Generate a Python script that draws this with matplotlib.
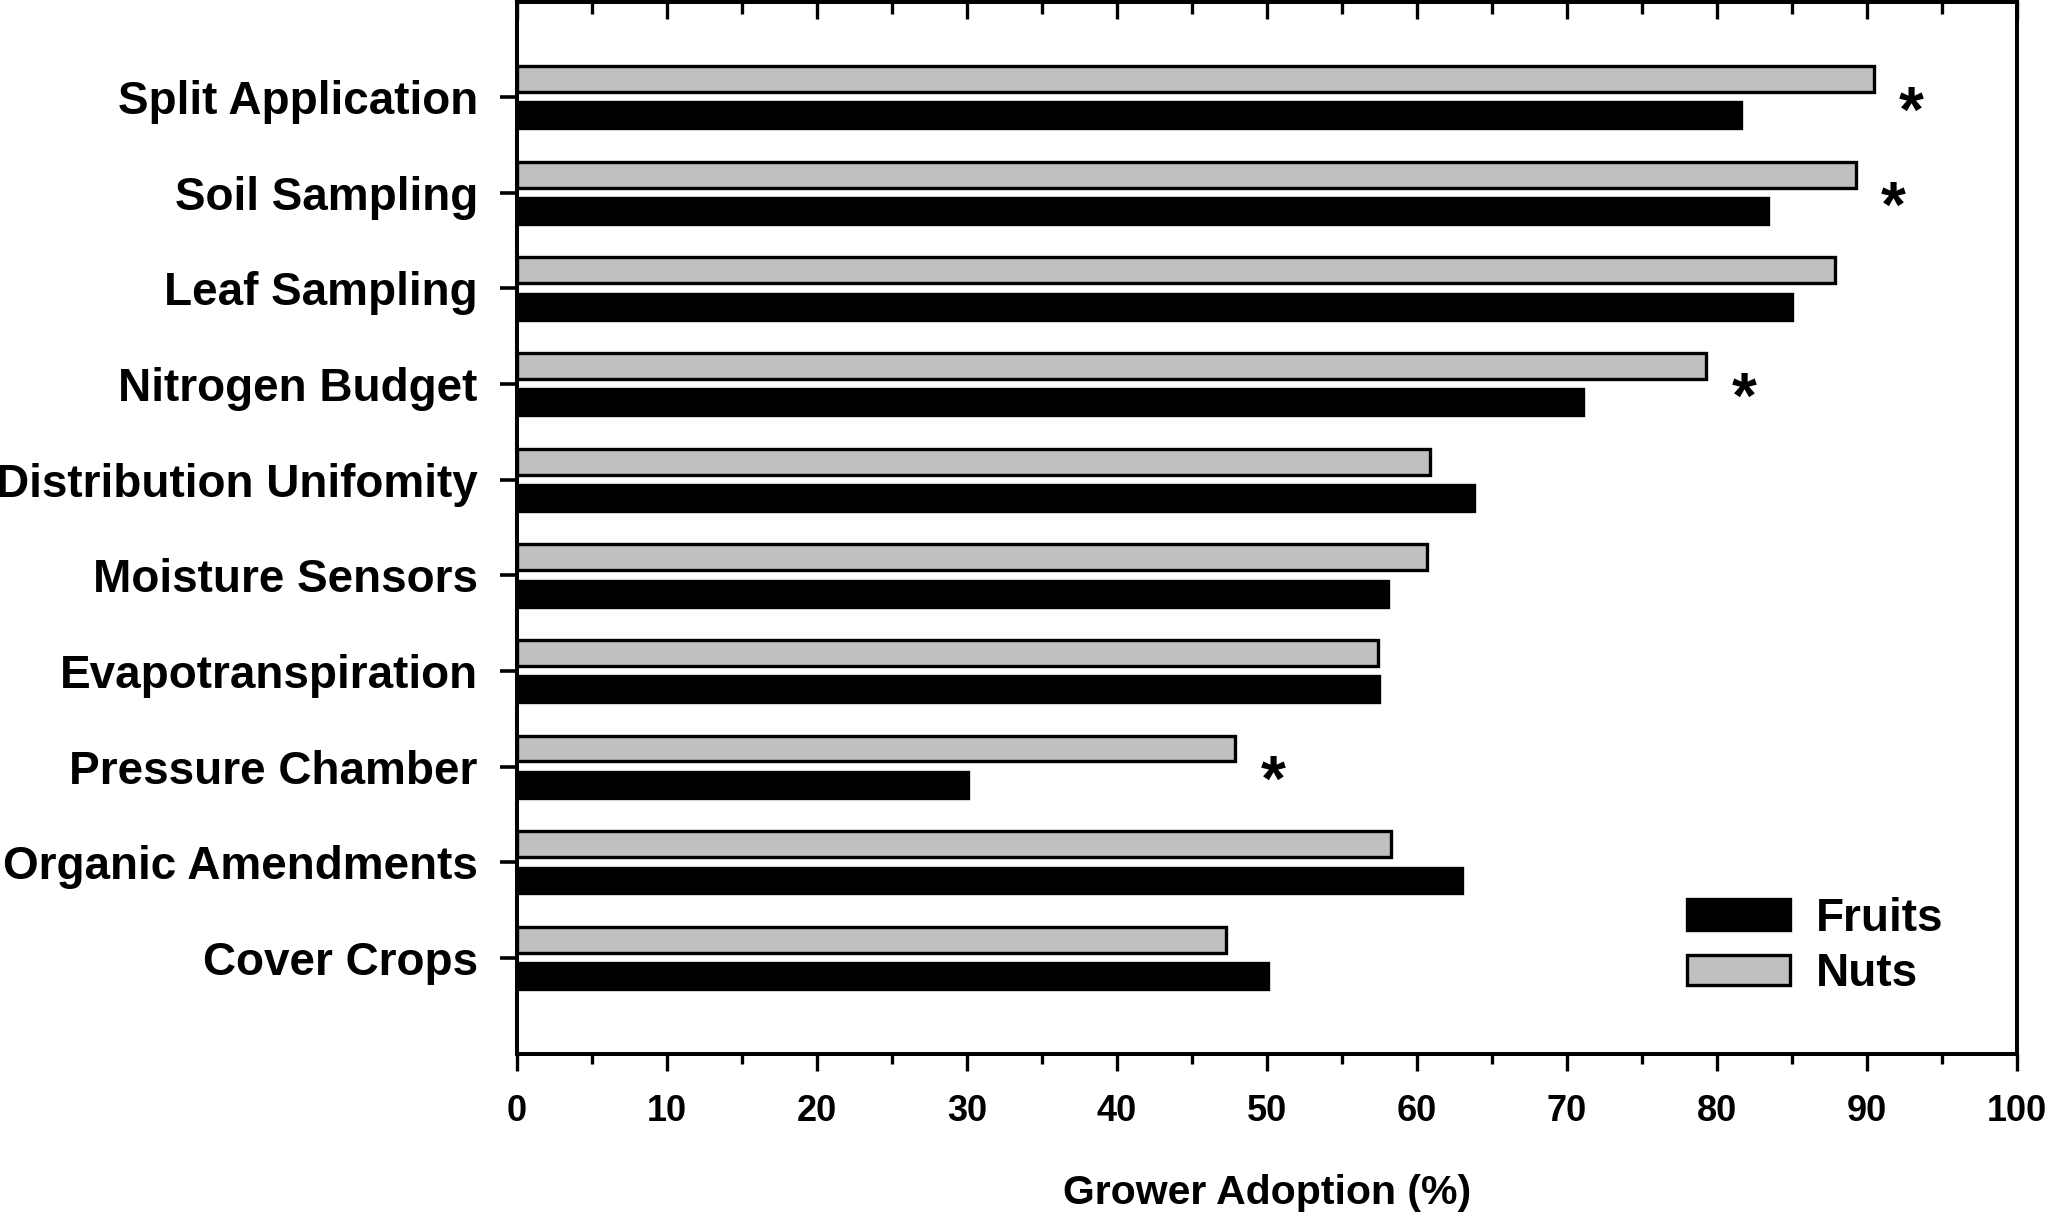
import matplotlib
matplotlib.use("Agg")
import matplotlib.pyplot as plt
from matplotlib.ticker import MultipleLocator
from matplotlib.patches import Patch
import numpy as np

plt.rcParams['font.family'] = ['Liberation Sans', 'DejaVu Sans']
plt.rcParams['font.weight'] = 'bold'

# ---- data (top to bottom as displayed) ----
categories = ["Split Application", "Soil Sampling", "Leaf Sampling", "Nitrogen Budget",
              "Distribution Unifomity", "Moisture Sensors", "Evapotranspiration",
              "Pressure Chamber", "Organic Amendments", "Cover Crops"]
nuts = [90.5, 89.3, 87.9, 79.3, 60.9, 60.7, 57.4, 47.9, 58.3, 47.3]
fruits = [81.6, 83.4, 85.0, 71.1, 63.8, 58.1, 57.5, 30.1, 63.0, 50.1]
significant = [True, True, False, True, False, False, False, True, False, False]
xticks = [0, 10, 20, 30, 40, 50, 60, 70, 80, 90, 100]

W, H = 2047, 1214
fig = plt.figure(figsize=(W / 100, H / 100), dpi=100)
left, right, top, bottom = 517, 2016.7, 1.5, 1053.7
ax = fig.add_axes([left / W, 1 - bottom / H, (right - left) / W, (bottom - top) / H])

n = len(categories)
pos = np.arange(n)[::-1]  # first category at top
off = 0.19
bh = 0.27
gray = '#C0C0C0'
ax.barh(pos + off, nuts, height=bh, color=gray, edgecolor='black', linewidth=2.4, label='Nuts')
ax.barh(pos - off, fruits, height=bh, color='black', edgecolor='black', linewidth=2.4, label='Fruits')

for p, nv, fv, s in zip(pos, nuts, fruits, significant):
    if s:
        ax.annotate('*', xy=(max(nv, fv) + 2.5, p), xytext=(0, -24.6), textcoords='offset points',
                    ha='center', va='baseline', fontsize=46, fontweight='bold')

ax.set_xlim(0, 100)
ax.set_ylim(-1, n)
ax.set_yticks(pos)
ax.set_yticklabels(categories)
ax.set_xticks(xticks)
ax.xaxis.set_minor_locator(MultipleLocator(5))

for sp in ax.spines.values():
    sp.set_linewidth(2.9)

ax.tick_params(axis='y', which='both', direction='out', length=12.2, width=2.6,
               pad=16, labelsize=33, right=False)
ax.tick_params(axis='x', which='major', direction='out', length=12.2, width=2.4,
               pad=17, labelsize=26, top=False)
ax.tick_params(axis='x', which='minor', direction='out', length=7.4, width=2.4, top=False)

sec = ax.secondary_xaxis('top')
sec.set_xticks(xticks)
sec.xaxis.set_minor_locator(MultipleLocator(5))
sec.tick_params(axis='x', which='major', direction='in', length=13, width=2.4, labeltop=False)
sec.tick_params(axis='x', which='minor', direction='in', length=9, width=2.4, labeltop=False)
sec.spines['top'].set_linewidth(2.9)

ax.set_xlabel('Grower Adoption (%)', fontsize=29.5, fontweight='bold')
ax.xaxis.set_label_coords(0.5, -0.1143)

handles = [Patch(facecolor='black', edgecolor='black', linewidth=2.4),
           Patch(facecolor=gray, edgecolor='black', linewidth=2.4)]
fig.legend(handles, ['Fruits', 'Nuts'], loc='upper left',
           bbox_to_anchor=(1686.7 / W, 1 - 896.6 / H), bbox_transform=fig.transFigure,
           frameon=False, fontsize=33, handlelength=2.26, handleheight=0.655,
           handletextpad=0.55, labelspacing=0.25, borderpad=0, borderaxespad=0)

fig.savefig('out.png', dpi=100)
